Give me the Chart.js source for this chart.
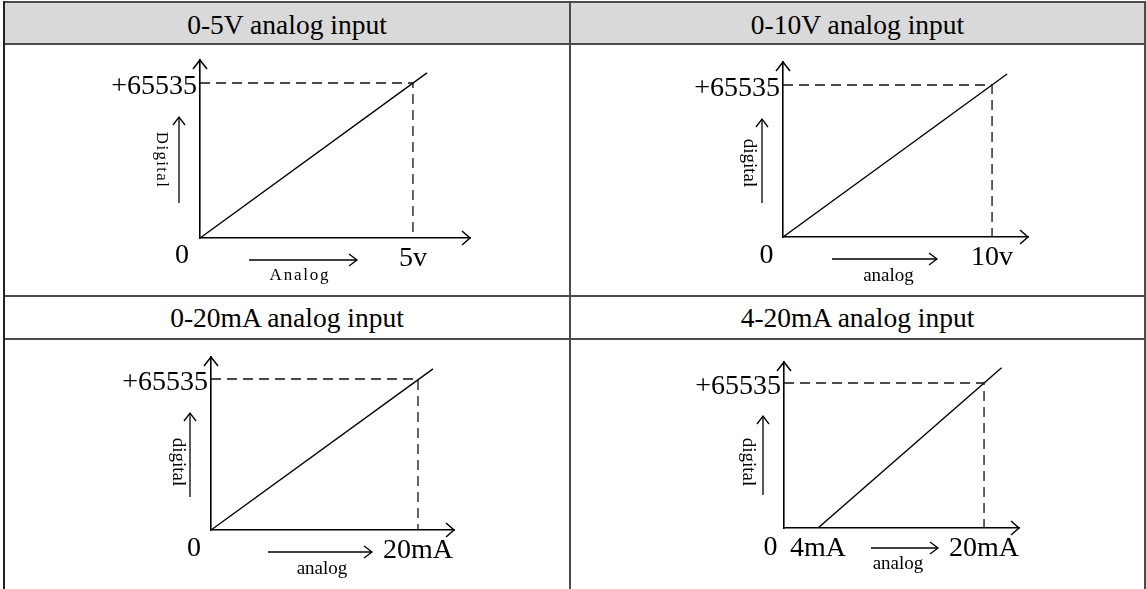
<!DOCTYPE html>
<html>
<head>
<meta charset="utf-8">
<script src="https://cdn.jsdelivr.net/npm/chart.js@4.4.0/dist/chart.umd.min.js"></script>
<style>
  html, body { margin: 0; padding: 0; background: #fff; }
  #page { position: relative; width: 1146px; height: 589px; overflow: hidden; font-family: "Liberation Serif", "Times New Roman", serif; }
  .rule { position: absolute; background: #4a4a4a; }
  .head { position: absolute; text-align: center; font-size: 27.5px; color: #000; }
  canvas { position: absolute; }
</style>
</head>
<body>
<div id="page"></div>
<script>
// chart data
const headers = ['0-5V analog input', '0-10V analog input', '0-20mA analog input', '4-20mA analog input'];
const xTickValues = [[5], [10], [20], [4, 20]];
const xTickLabels = [['5v'], ['10v'], ['20mA'], ['4mA', '20mA']];
const zeroLabel = '0';
const yTickValue = 65535;
const yTickLabel = '+65535';
const lineStartX = [0, 0, 0, 4];
const fullScaleX = [5, 10, 20, 20];
const lineEndX = [5.33, 10.72, 21.45, 21.69];
const lineEndY = [69800, 70300, 69900, 72400];
const xMin = [0, 0, 0, 0.72];
const xMax = [6.34, 11.72, 23.48, 23.37];
const yMax = [75260, 75450, 75080, 75030];
const xTitles = ['Analog', 'analog', 'analog', 'analog'];
const yTitles = ['Digital', 'digital', 'digital', 'digital'];

// layout of the table cells and the plot boxes (page pixels)
const cells = [
    { left: 5, top: 45, width: 564, height: 250, area: [200, 60, 470, 238] },
    { left: 571, top: 45, width: 573, height: 250, area: [783, 62, 1028, 237] },
    { left: 5, top: 340, width: 564, height: 249, area: [211, 357, 454, 530] },
    { left: 571, top: 340, width: 573, height: 249, area: [784, 362, 1019, 528] }
];
// annotation offsets from the origin
const notes = [
    { zero: [-18, 18], xArrow: [49, 157, 22], xText: [100, 38], yArrow: [-21, -35, -121], yText: [-39, -78], mono: true },
    { zero: [-16.5, 18.5], xArrow: [49, 154, 22], xText: [105.5, 39], yArrow: [-21, -34, -118], yText: [-34, -74] },
    { zero: [-17, 18.5], xArrow: [57, 161, 22], xText: [111, 39.5], yArrow: [-21, -33, -117], yText: [-33, -68] },
    { zero: [-13.5, 20], xArrow: [87, 154, 20], xText: [114, 36.5], yArrow: [-21, -33, -112], yText: [-36, -66] }
];

const serif = '"Liberation Serif", "Times New Roman", serif';
const page = document.getElementById('page');

const decor = {
    id: 'decor',
    afterDraw(chart, args, opts) {
        const { ctx, chartArea: a } = chart;
        const n = opts.note;
        const ox = a.left, oy = a.bottom;
        ctx.save();
        ctx.strokeStyle = '#000';
        ctx.fillStyle = '#000';
        ctx.lineWidth = 1.5;
        arrowHead(ctx, a.left, a.top, 'up', 9, 7);
        arrowHead(ctx, a.right, a.bottom, 'right', 8, 7);

        ctx.lineWidth = 1.3;
        ctx.beginPath();
        ctx.moveTo(ox + n.xArrow[0], oy + n.xArrow[2]);
        ctx.lineTo(ox + n.xArrow[1], oy + n.xArrow[2]);
        ctx.stroke();
        arrowHead(ctx, ox + n.xArrow[1], oy + n.xArrow[2], 'right', 8, 6);
        ctx.beginPath();
        ctx.moveTo(ox + n.yArrow[0], oy + n.yArrow[1]);
        ctx.lineTo(ox + n.yArrow[0], oy + n.yArrow[2]);
        ctx.stroke();
        arrowHead(ctx, ox + n.yArrow[0], oy + n.yArrow[2], 'up', 8, 6);

        ctx.textAlign = 'center';
        ctx.textBaseline = 'middle';
        ctx.font = '28px ' + serif;
        ctx.fillText(zeroLabel, ox + n.zero[0], oy + n.zero[1]);

        // the first panel uses a spaced-out lettering for its axis names
        ctx.font = n.mono ? '17px ' + serif : '19px ' + serif;
        ctx.letterSpacing = n.mono ? '1.8px' : '0px';
        ctx.fillText(opts.xTitle, ox + n.xText[0], oy + n.xText[1]);
        ctx.translate(ox + n.yText[0], oy + n.yText[1]);
        ctx.rotate(Math.PI / 2);
        ctx.letterSpacing = n.mono ? '1.3px' : '0px';
        ctx.fillText(opts.yTitle, 0, 0);
        ctx.restore();
    }
};

function addBox(cls, css, text) {
    const d = document.createElement('div');
    d.className = cls;
    Object.assign(d.style, css);
    if (text) d.textContent = text;
    page.appendChild(d);
}

function buildTable() {
    addBox('head', { left: '5px', top: '3px', width: '1139px', height: '40px', background: '#d9d9d9' });
    const cols = [[5, 564], [571, 573]];
    const headTops = [4, 297];
    headers.forEach((h, i) => {
        const [x, w] = cols[i % 2];
        addBox('head', { left: x + 'px', top: headTops[Math.floor(i / 2)] + 'px', width: w + 'px', height: '41px', lineHeight: '41px' }, h);
    });
    addBox('rule', { left: '3px', top: '1px', width: '1143px', height: '2px' });
    addBox('rule', { left: '3px', top: '43px', width: '1143px', height: '2px' });
    addBox('rule', { left: '3px', top: '295px', width: '1143px', height: '2px' });
    addBox('rule', { left: '3px', top: '338px', width: '1143px', height: '2px' });
    addBox('rule', { left: '3px', top: '1px', width: '2px', height: '588px', background: '#222' });
    addBox('rule', { left: '569px', top: '1px', width: '2px', height: '588px' });
    addBox('rule', { left: '1144px', top: '1px', width: '2px', height: '588px' });
}

function arrowHead(ctx, x, y, dir, len, half) {
    ctx.beginPath();
    if (dir === 'up') {
        ctx.moveTo(x - half, y + len);
        ctx.lineTo(x, y);
        ctx.lineTo(x + half, y + len);
    } else {
        ctx.moveTo(x - len, y - half);
        ctx.lineTo(x, y);
        ctx.lineTo(x - len, y + half);
    }
    ctx.stroke();
}

function drawPanel(c, i) {
    const canvas = document.createElement('canvas');
    canvas.width = c.width;
    canvas.height = c.height;
    canvas.style.left = c.left + 'px';
    canvas.style.top = c.top + 'px';
    page.appendChild(canvas);

    const [L, T, R, B] = c.area;
    const yWidth = L - c.left;
    const xHeight = c.top + c.height - B;

    new Chart(canvas, {
        type: 'line',
        data: {
            datasets: [{
                data: [
                    { x: xMin[i], y: yTickValue },
                    { x: fullScaleX[i], y: yTickValue },
                    { x: fullScaleX[i], y: 0 }
                ],
                borderColor: '#111',
                borderWidth: 1.3,
                borderDash: [10, 6],
                pointRadius: 0,
                fill: false,
                tension: 0
            }, {
                data: [
                    { x: lineStartX[i], y: 0 },
                    { x: lineEndX[i], y: lineEndY[i] }
                ],
                borderColor: '#000',
                borderWidth: 1.4,
                pointRadius: 0,
                fill: false,
                tension: 0
            }]
        },
        options: {
            responsive: false,
            animation: false,
            devicePixelRatio: 1,
            layout: { padding: { top: T - c.top, right: c.left + c.width - R, left: 0, bottom: 0 } },
            plugins: {
                legend: { display: false },
                tooltip: { enabled: false },
                decor: { note: notes[i], xTitle: xTitles[i], yTitle: yTitles[i] }
            },
            scales: {
                x: {
                    type: 'linear',
                    min: xMin[i],
                    max: xMax[i],
                    grid: { display: false, drawTicks: false },
                    border: { display: true, color: '#000', width: 1.6 },
                    ticks: {
                        color: '#000',
                        font: { family: serif, size: 28 },
                        padding: 4,
                        autoSkip: false,
                        maxRotation: 0,
                        minRotation: 0,
                        callback: v => xTickLabels[i][xTickValues[i].indexOf(v)]
                    },
                    afterBuildTicks: s => { s.ticks = xTickValues[i].map(v => ({ value: v })); },
                    afterFit: s => { s.height = xHeight; s.paddingLeft = 0; s.paddingRight = 0; }
                },
                y: {
                    type: 'linear',
                    min: 0,
                    max: yMax[i],
                    grid: { display: false, drawTicks: false },
                    border: { display: true, color: '#000', width: 1.6 },
                    ticks: {
                        color: '#000',
                        font: { family: serif, size: 28 },
                        padding: 3,
                        labelOffset: 4,
                        autoSkip: false,
                        callback: () => yTickLabel
                    },
                    afterBuildTicks: s => { s.ticks = [{ value: yTickValue }]; },
                    afterFit: s => { s.width = yWidth; s.paddingTop = 0; s.paddingBottom = 0; }
                }
            }
        },
        plugins: [decor]
    });
}

buildTable();
cells.forEach((c, i) => drawPanel(c, i));
</script>
</body>
</html>
